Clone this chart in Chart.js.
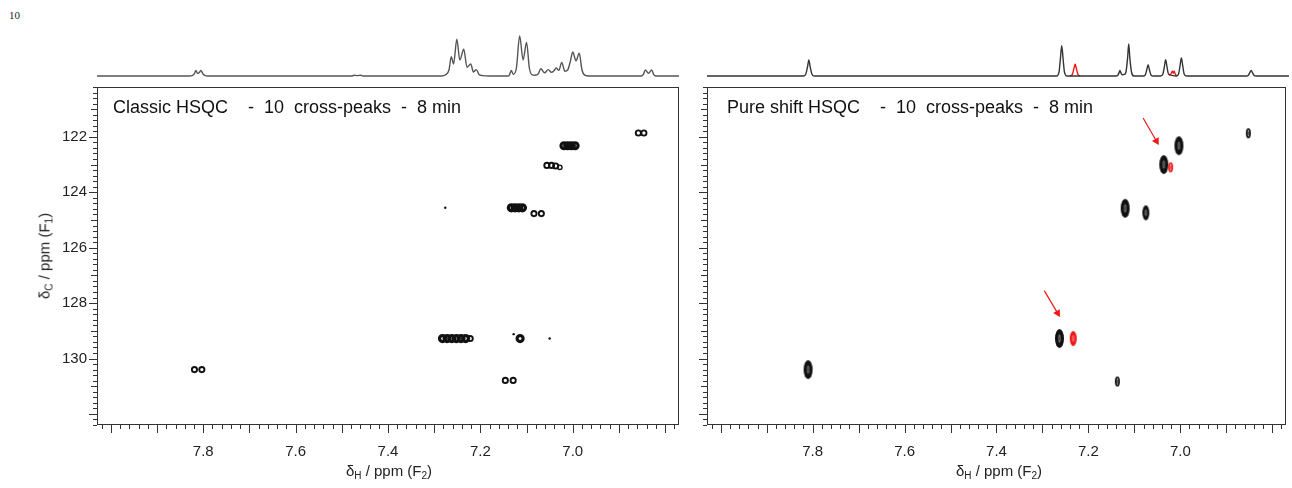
<!DOCTYPE html>
<html>
<head>
<meta charset="utf-8">
<script src="https://cdn.jsdelivr.net/npm/chart.js@4.4.0/dist/chart.umd.min.js"></script>
<style>
  body { margin: 0; background: #fff; }
  #wrap { position: relative; width: 1292px; height: 488px; overflow: hidden; font-family: "Liberation Sans", Arial, sans-serif; color: #222; }
  #wrap canvas { position: absolute; }
  .txt { position: absolute; white-space: pre; line-height: 1; }
  .axt { font-size: 15px; }
  .axt sub { font-size: 10px; vertical-align: -3px; line-height: 0; }
  .ttl { font-size: 18px; color: #111; }
</style>
</head>
<body>
<div id="wrap">
  <div class="txt" style="left:9px;top:10px;font-family:'Liberation Serif',serif;font-size:11px;">10</div>

  <canvas id="specLeft" width="690" height="90" style="left:0;top:0"></canvas>
  <canvas id="specRight" width="682" height="90" style="left:610px;top:0"></canvas>
  <canvas id="hsqcLeft" width="690" height="488" style="left:0;top:0"></canvas>
  <canvas id="hsqcRight" width="682" height="488" style="left:610px;top:0"></canvas>

  <div class="txt ttl" style="left:113px;top:98px;">Classic HSQC    -  10  cross-peaks  -  8 min</div>
  <div class="txt ttl" style="left:727px;top:98px;">Pure shift HSQC    -  10  cross-peaks  -  8 min</div>

  <div class="txt axt" style="left:44px;top:256px;transform:translate(-50%,-50%) rotate(-90deg);">&delta;<sub>C</sub> / ppm (F<sub>1</sub>)</div>
  <div class="txt axt" style="left:389px;top:470px;transform:translate(-50%,-50%);">&delta;<sub>H</sub> / ppm (F<sub>2</sub>)</div>
  <div class="txt axt" style="left:999px;top:470px;transform:translate(-50%,-50%);">&delta;<sub>H</sub> / ppm (F<sub>2</sub>)</div>
</div>

<script>
// axis ranges and tick labels
const hRange = [6.77, 8.03];
const cRange = [120.2, 132.4];
const hLabels = [7.8, 7.6, 7.4, 7.2, 7.0];
const cLabels = [122, 124, 126, 128, 130];

// 1D proton trace above the classic HSQC (ppm, relative intensity)
const classicSpecH = [8.03, 7.83, 7.824, 7.819, 7.816, 7.8125, 7.809, 7.805, 7.801, 7.796, 7.79,
  7.478, 7.474, 7.466, 7.459, 7.454,
  7.285, 7.275, 7.268, 7.263, 7.258, 7.251, 7.2445, 7.236, 7.229, 7.221, 7.215, 7.209, 7.203, 7.195, 7.18,
  7.14, 7.137, 7.133, 7.129, 7.122, 7.115, 7.1075, 7.100, 7.094, 7.088, 7.082,
  7.075, 7.069, 7.061, 7.053, 7.046, 7.040, 7.036, 7.030, 7.024, 7.017, 7.011, 7.0055, 7.000, 6.993, 6.986, 6.980, 6.974, 6.965,
  6.852, 6.847, 6.843, 6.836, 6.829, 6.825, 6.82, 6.77];
const classicSpecI = [0, 0, 1, 6, 14, 7, 8, 14, 6, 1, 0,
  0, 2, 1, 2, 0,
  0, 3, 15, 48, 30, 92, 40, 67, 22, 30, 10, 16, 4, 1, 0,
  0, 3, 14, 4, 20, 100, 40, 84, 20, 3, 2,
  5, 18, 8, 16, 9, 14, 20, 14, 34, 12, 15, 35, 60, 38, 57, 15, 2, 0,
  0, 4, 15, 7, 15, 4, 0, 0];

// 1D pure shift trace above the pure shift HSQC
const pureSpecH = [8.03, 7.821, 7.816, 7.8125, 7.8095, 7.8065, 7.803, 7.798,
  7.273, 7.268, 7.265, 7.262, 7.259, 7.256, 7.251,
  7.145, 7.1405, 7.138, 7.136, 7.134, 7.131, 7.1265, 7.123, 7.1195, 7.117, 7.1145, 7.111, 7.106,
  7.086, 7.081, 7.078, 7.075, 7.072, 7.069, 7.064,
  7.048, 7.043, 7.040, 7.037, 7.034, 7.031,
  7.014, 7.009, 7.006, 7.003, 7.000, 6.997, 6.992,
  6.863, 6.858, 6.855, 6.852, 6.849, 6.846, 6.841, 6.77];
const pureSpecI = [0, 0, 5, 22, 40, 22, 5, 0,
  0, 9, 42, 76, 42, 9, 0,
  0, 2, 8, 14, 8, 3, 4, 10, 44, 80, 44, 10, 0,
  0, 3, 15, 28, 15, 3, 0,
  0, 5, 22, 41, 22, 5,
  0, 5, 25, 45, 25, 5, 0,
  0, 2, 8, 14, 8, 2, 0, 0];
// peaks seen only in the pure shift spectrum (drawn in red)
const extraSpecH = [7.244, 7.239, 7.236, 7.233, 7.230, 7.227, 7.222];
const extraSpecI = [0, 4, 17, 30, 17, 4, 0];
const extra2SpecH = [7.031, 7.027, 7.0245, 7.0225, 7.0205, 7.0185, 7.016, 7.012];
const extra2SpecI = [5, 2, 8, 12, 7, 12, 4, 0];

// classic HSQC contours: F2 (1H), F1 (13C), contour level
const classicH = [6.858, 6.846, 7.019, 7.011, 7.003, 6.995, 7.056, 7.046, 7.037, 7.028, 7.276,
  7.133, 7.125, 7.117, 7.109, 7.084, 7.068, 7.282, 7.272, 7.262, 7.252, 7.242, 7.232, 7.222,
  7.128, 7.114, 7.05, 7.146, 7.129, 7.819, 7.803];
const classicC = [121.86, 121.86, 122.32, 122.32, 122.32, 122.32, 123.03, 123.03, 123.05, 123.1, 124.56,
  124.56, 124.56, 124.56, 124.56, 124.77, 124.77, 129.28, 129.28, 129.28, 129.28, 129.28, 129.28, 129.28,
  129.12, 129.28, 129.28, 130.79, 130.79, 130.40, 130.40];
const classicLevel = [2, 2, 3, 3, 3, 3, 2, 2, 2, 1, 0,
  3, 3, 3, 3, 2, 2, 3, 3, 3, 3, 3, 3, 2,
  0, 3, 0, 2, 2, 2, 2];

// pure shift HSQC cross-peaks
const pureH = [6.852, 7.003, 7.036, 7.021, 7.12, 7.075, 7.263, 7.233, 7.137, 7.81];
const pureC = [121.87, 122.32, 123.0, 123.1, 124.58, 124.74, 129.28, 129.28, 130.83, 130.40];
const pureLevel = [1, 3, 3, 1, 3, 2, 3, 2, 1, 3];
const pureExtra = [false, false, false, true, false, false, false, true, false, false];

// arrows pointing at the extra peaks
const arrowFromH = [7.081, 7.296];
const arrowFromC = [121.32, 127.55];
const arrowToH = [7.052, 7.267];
const arrowToC = [122.15, 128.36];

const FONT = '"Liberation Sans", Arial, sans-serif';
const INK = '#111';
const RED = '#f01818';

// frame + tick marks, using the chart's own scales
const frameTicks = {
  id: 'frameTicks',
  afterDraw(chart) {
    const { ctx, chartArea: a, scales: { x, y } } = chart;
    ctx.save();
    ctx.strokeStyle = '#333';
    ctx.lineWidth = 1;
    ctx.strokeRect(a.left + 0.5, a.top + 0.5, a.right - a.left - 1, a.bottom - a.top - 1);
    ctx.beginPath();
    for (let k = Math.ceil(x.min * 50 - 1e-6); k <= Math.floor(x.max * 50 + 1e-6); k++) {
      const px = Math.round(x.getPixelForValue(k / 50)) + 0.5;
      const len = k % 5 === 0 ? 8 : 4;
      ctx.moveTo(px, a.bottom);
      ctx.lineTo(px, a.bottom + len);
    }
    for (let k = Math.ceil(y.min * 5 - 1e-6); k <= Math.floor(y.max * 5 + 1e-6); k++) {
      const py = Math.round(y.getPixelForValue(k / 5)) + 0.5;
      const len = k % 5 === 0 ? (k % 10 === 0 ? 8 : 6) : 4;
      ctx.moveTo(a.left, py);
      ctx.lineTo(a.left - len, py);
    }
    ctx.stroke();
    ctx.restore();
  }
};

// nested contour look for the pure shift peaks
function makeContour(w, h, color, level) {
  const c = document.createElement('canvas');
  c.width = Math.ceil(w) + 4;
  c.height = Math.ceil(h) + 4;
  const g = c.getContext('2d');
  const cx = c.width / 2, cy = c.height / 2;
  if (level === 1) {
    g.strokeStyle = color;
    g.lineWidth = 1.7;
    g.beginPath();
    g.ellipse(cx, cy, w / 2 - 0.85, h / 2 - 0.85, 0, 0, Math.PI * 2);
    g.stroke();
    g.lineWidth = 0.8;
    g.beginPath();
    g.ellipse(cx, cy, 0.5, h / 5, 0, 0, Math.PI * 2);
    g.stroke();
  } else {
    g.fillStyle = color;
    g.beginPath();
    g.ellipse(cx, cy, w / 2, h / 2, 0, 0, Math.PI * 2);
    g.fill();
    g.strokeStyle = 'rgba(255,255,255,0.7)';
    g.lineWidth = 0.6;
    g.beginPath();
    g.ellipse(cx, cy, 0.7, h / 5, 0, 0, Math.PI * 2);
    g.stroke();
  }
  return c;
}
const contourSize = { 1: [5, 10], 2: [7, 15], 3: [9, 19] };
const contourImg = {};
[1, 2, 3].forEach(l => {
  const [w, h] = contourSize[l];
  contourImg['k' + l] = makeContour(w, h, INK, l);
  contourImg['r' + l] = makeContour(w, h, RED, l);
});

function specChart(id, padRight, datasets) {
  return new Chart(document.getElementById(id), {
    type: 'line',
    data: { datasets },
    options: {
      responsive: false,
      animation: false,
      devicePixelRatio: 1,
      events: [],
      layout: { padding: { left: 97, right: padRight, top: 36, bottom: 14 } },
      plugins: { legend: { display: false }, tooltip: { enabled: false } },
      scales: {
        x: { type: 'linear', min: hRange[0], max: hRange[1], reverse: true, display: false },
        y: { min: 0, max: 100, display: false }
      }
    }
  });
}

function traceSet(hs, is, color) {
  return {
    data: hs.map((h, i) => ({ x: h, y: is[i] })),
    borderColor: color,
    borderWidth: 1.4,
    pointRadius: 0,
    cubicInterpolationMode: 'monotone',
    clip: false
  };
}

specChart('specLeft', 11, [traceSet(classicSpecH, classicSpecI, '#555')]);
specChart('specRight', 3, [
  traceSet(pureSpecH, pureSpecI, '#333'),
  traceSet(extraSpecH, extraSpecI, RED),
  traceSet(extra2SpecH, extra2SpecI, RED)
]);

function hsqcScales(showY) {
  return {
    x: {
      type: 'linear', min: hRange[0], max: hRange[1], reverse: true,
      grid: { display: false, drawTicks: false }, border: { display: false },
      afterBuildTicks: s => { s.ticks = hLabels.map(v => ({ value: v })); },
      afterFit: s => { s.height = 63; },
      ticks: { padding: 18, color: '#222', font: { family: FONT, size: 15 }, callback: v => v.toFixed(1) }
    },
    y: {
      type: 'linear', min: cRange[0], max: cRange[1], reverse: true,
      grid: { display: false, drawTicks: false }, border: { display: false },
      afterBuildTicks: s => { s.ticks = cLabels.map(v => ({ value: v })); },
      afterFit: s => { s.width = 97; },
      ticks: { display: showY, padding: 10, color: '#222', font: { family: FONT, size: 15 } }
    }
  };
}

function arrowSets() {
  return arrowFromH.map((h, i) => ({
    type: 'line',
    data: [{ x: h, y: arrowFromC[i] }, { x: arrowToH[i], y: arrowToC[i] }],
    borderColor: RED,
    borderWidth: 1.2,
    backgroundColor: RED,
    pointBackgroundColor: RED,
    pointBorderColor: RED,
    pointStyle: 'triangle',
    pointRotation: 150,
    pointRadius: [0, 4.5],
    pointBorderWidth: 0
  }));
}

const ringRadius = { 0: 1.2, 1: 2.2, 2: 2.6, 3: 3.0 };
const ringWidth = { 0: 0, 1: 1.4, 2: 1.9, 3: 3.2 };

new Chart(document.getElementById('hsqcLeft'), {
  type: 'scatter',
  data: {
    datasets: [{
      data: classicH.map((h, i) => ({ x: h, y: classicC[i] })),
      pointStyle: 'circle',
      pointRadius: ctx => ringRadius[classicLevel[ctx.dataIndex]],
      pointBorderWidth: ctx => ringWidth[classicLevel[ctx.dataIndex]],
      pointBorderColor: INK,
      pointBackgroundColor: ctx => classicLevel[ctx.dataIndex] === 0 ? INK : 'rgba(0,0,0,0)'
    }]
  },
  options: {
    responsive: false, animation: false, devicePixelRatio: 1, events: [],
    layout: { padding: { left: 0, right: 11, top: 87, bottom: 0 } },
    plugins: { legend: { display: false }, tooltip: { enabled: false } },
    scales: hsqcScales(true)
  },
  plugins: [frameTicks]
});

new Chart(document.getElementById('hsqcRight'), {
  type: 'scatter',
  data: {
    datasets: [{
      data: pureH.map((h, i) => ({ x: h, y: pureC[i] })),
      pointStyle: ctx => contourImg[(pureExtra[ctx.dataIndex] ? 'r' : 'k') + pureLevel[ctx.dataIndex]],
      pointRadius: 5
    }, ...arrowSets()]
  },
  options: {
    responsive: false, animation: false, devicePixelRatio: 1, events: [],
    layout: { padding: { left: 0, right: 3, top: 87, bottom: 0 } },
    plugins: { legend: { display: false }, tooltip: { enabled: false } },
    scales: hsqcScales(false)
  },
  plugins: [frameTicks]
});
</script>
</body>
</html>
